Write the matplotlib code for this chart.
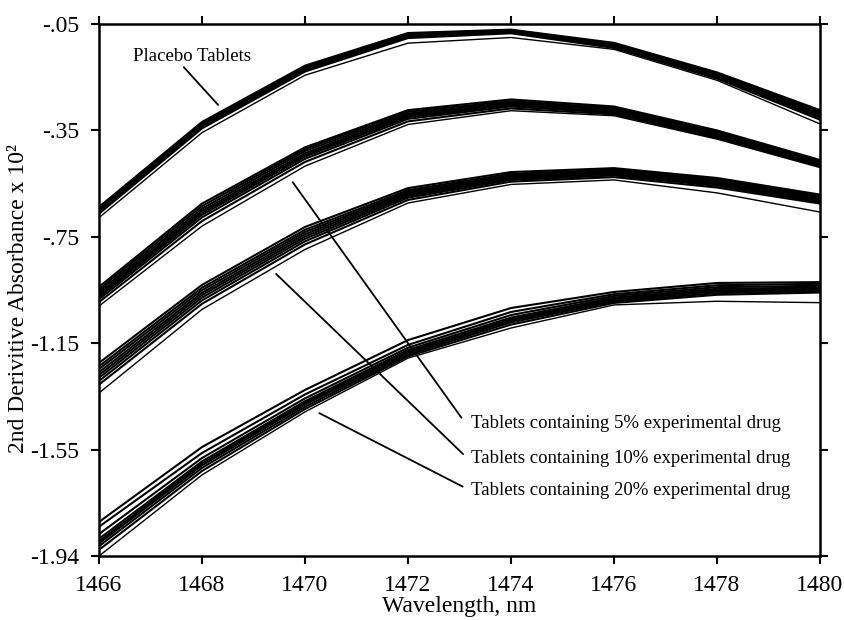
import numpy as np
import matplotlib
matplotlib.use('Agg')
import matplotlib.pyplot as plt

plt.rcParams['font.family'] = ['Liberation Serif', 'DejaVu Serif']

# wavelengths (nm)
wavelength = [1466, 1468, 1470, 1472, 1474, 1476, 1478, 1480]

# 2nd derivative spectra, one row per tablet
placebo = [
    [-0.700, -0.398, -0.198, -0.082, -0.070, -0.117, -0.222, -0.356],
    [-0.704, -0.402, -0.201, -0.085, -0.072, -0.120, -0.226, -0.362],
    [-0.707, -0.405, -0.204, -0.087, -0.073, -0.122, -0.229, -0.366],
    [-0.710, -0.408, -0.206, -0.089, -0.075, -0.124, -0.231, -0.369],
    [-0.713, -0.411, -0.209, -0.091, -0.076, -0.126, -0.234, -0.373],
    [-0.716, -0.414, -0.212, -0.093, -0.078, -0.129, -0.237, -0.378],
    [-0.719, -0.417, -0.215, -0.096, -0.080, -0.131, -0.240, -0.383],
    [-0.724, -0.421, -0.219, -0.100, -0.083, -0.135, -0.244, -0.390],
    [-0.738, -0.436, -0.232, -0.118, -0.098, -0.140, -0.250, -0.405],
]
drug5 = [
    [-0.984, -0.688, -0.488, -0.356, -0.318, -0.343, -0.428, -0.533],
    [-0.992, -0.697, -0.494, -0.362, -0.324, -0.348, -0.433, -0.537],
    [-1.000, -0.706, -0.501, -0.368, -0.329, -0.352, -0.437, -0.540],
    [-1.008, -0.714, -0.509, -0.373, -0.333, -0.356, -0.441, -0.543],
    [-1.014, -0.721, -0.515, -0.377, -0.336, -0.359, -0.444, -0.546],
    [-1.020, -0.728, -0.521, -0.381, -0.339, -0.362, -0.447, -0.549],
    [-1.028, -0.737, -0.529, -0.387, -0.343, -0.366, -0.451, -0.552],
    [-1.038, -0.750, -0.540, -0.396, -0.350, -0.371, -0.455, -0.556],
    [-1.052, -0.768, -0.555, -0.407, -0.358, -0.376, -0.459, -0.560],
]
drug10 = [
    [-1.254, -0.977, -0.771, -0.633, -0.576, -0.562, -0.597, -0.656],
    [-1.266, -0.987, -0.781, -0.640, -0.582, -0.567, -0.602, -0.661],
    [-1.276, -0.996, -0.789, -0.646, -0.587, -0.571, -0.607, -0.666],
    [-1.287, -1.005, -0.797, -0.651, -0.591, -0.575, -0.611, -0.670],
    [-1.297, -1.013, -0.805, -0.656, -0.595, -0.579, -0.615, -0.674],
    [-1.307, -1.022, -0.813, -0.661, -0.599, -0.583, -0.620, -0.678],
    [-1.318, -1.032, -0.822, -0.667, -0.604, -0.588, -0.625, -0.683],
    [-1.331, -1.044, -0.833, -0.675, -0.610, -0.594, -0.631, -0.688],
    [-1.361, -1.064, -0.851, -0.686, -0.620, -0.604, -0.650, -0.718],
]
drug20 = [
    [-1.819, -1.553, -1.350, -1.173, -1.059, -1.002, -0.970, -0.967],
    [-1.836, -1.574, -1.366, -1.190, -1.073, -1.010, -0.978, -0.973],
    [-1.862, -1.592, -1.380, -1.200, -1.084, -1.016, -0.985, -0.980],
    [-1.879, -1.604, -1.390, -1.208, -1.093, -1.022, -0.991, -0.986],
    [-1.888, -1.611, -1.396, -1.214, -1.099, -1.027, -0.996, -0.990],
    [-1.895, -1.618, -1.402, -1.219, -1.104, -1.031, -1.000, -0.994],
    [-1.905, -1.627, -1.410, -1.225, -1.110, -1.036, -1.006, -0.999],
    [-1.918, -1.638, -1.418, -1.231, -1.118, -1.041, -1.012, -1.004],
    [-1.940, -1.652, -1.428, -1.237, -1.130, -1.048, -1.035, -1.040],
]

ytick_labels = ['-1.94', '-1.55', '-1.15', '-.75', '-.35', '-.05']

fig = plt.figure(figsize=(8.45, 6.2), dpi=100)
ax = fig.add_axes([99 / 845, 1 - 556 / 620, 721 / 845, 532 / 620])

for group in [placebo, drug5, drug10, drug20]:
    for i, row in enumerate(group):
        lw = 1.0 if i == len(group) - 1 else 1.5
        ax.plot(wavelength, row, color='black', lw=lw)

ax.set_xlim(1466, 1480)
ax.set_ylim(-1.94, -0.05)
ax.set_xticks(np.arange(1466, 1481, 2))
ax.set_yticks(np.linspace(-1.94, -0.05, 6))
ax.set_yticklabels(ytick_labels)
ax.tick_params(direction='out', length=6, width=1.5, labelsize=17,
               top=True, right=True, pad=8)
ax.tick_params(axis='x', pad=8)
for s in ax.spines.values():
    s.set_linewidth(1.8)

ax.set_xlabel('Wavelength, nm', fontsize=17, labelpad=0)
fig.text(19 / 845, 1 - 298 / 620, '2nd Derivitive Absorbance x 10²',
         rotation=90, fontsize=17, ha='center', va='center')

# labels and leader lines
ax.text(1466.66, -0.167, 'Placebo Tablets', fontsize=13.5, ha='left', va='center')
ax.annotate('', xy=(1468.35, -0.345), xytext=(1467.61, -0.196),
            arrowprops=dict(arrowstyle='-', lw=1.3, color='black'))

labels = ['Tablets containing 5% experimental drug',
          'Tablets containing 10% experimental drug',
          'Tablets containing 20% experimental drug']
label_y = [-1.471, -1.592, -1.706]
leader_start = [(1469.73, -0.604), (1469.40, -0.931), (1470.23, -1.428)]
leader_end = [(1473.07, -1.457), (1473.11, -1.585), (1473.11, -1.698)]
for lab, ly, st, en in zip(labels, label_y, leader_start, leader_end):
    ax.text(1473.22, ly, lab, fontsize=13.5, ha='left', va='center')
    ax.annotate('', xy=en, xytext=st,
                arrowprops=dict(arrowstyle='-', lw=1.3, color='black'))

fig.savefig('out.png', dpi=100)
